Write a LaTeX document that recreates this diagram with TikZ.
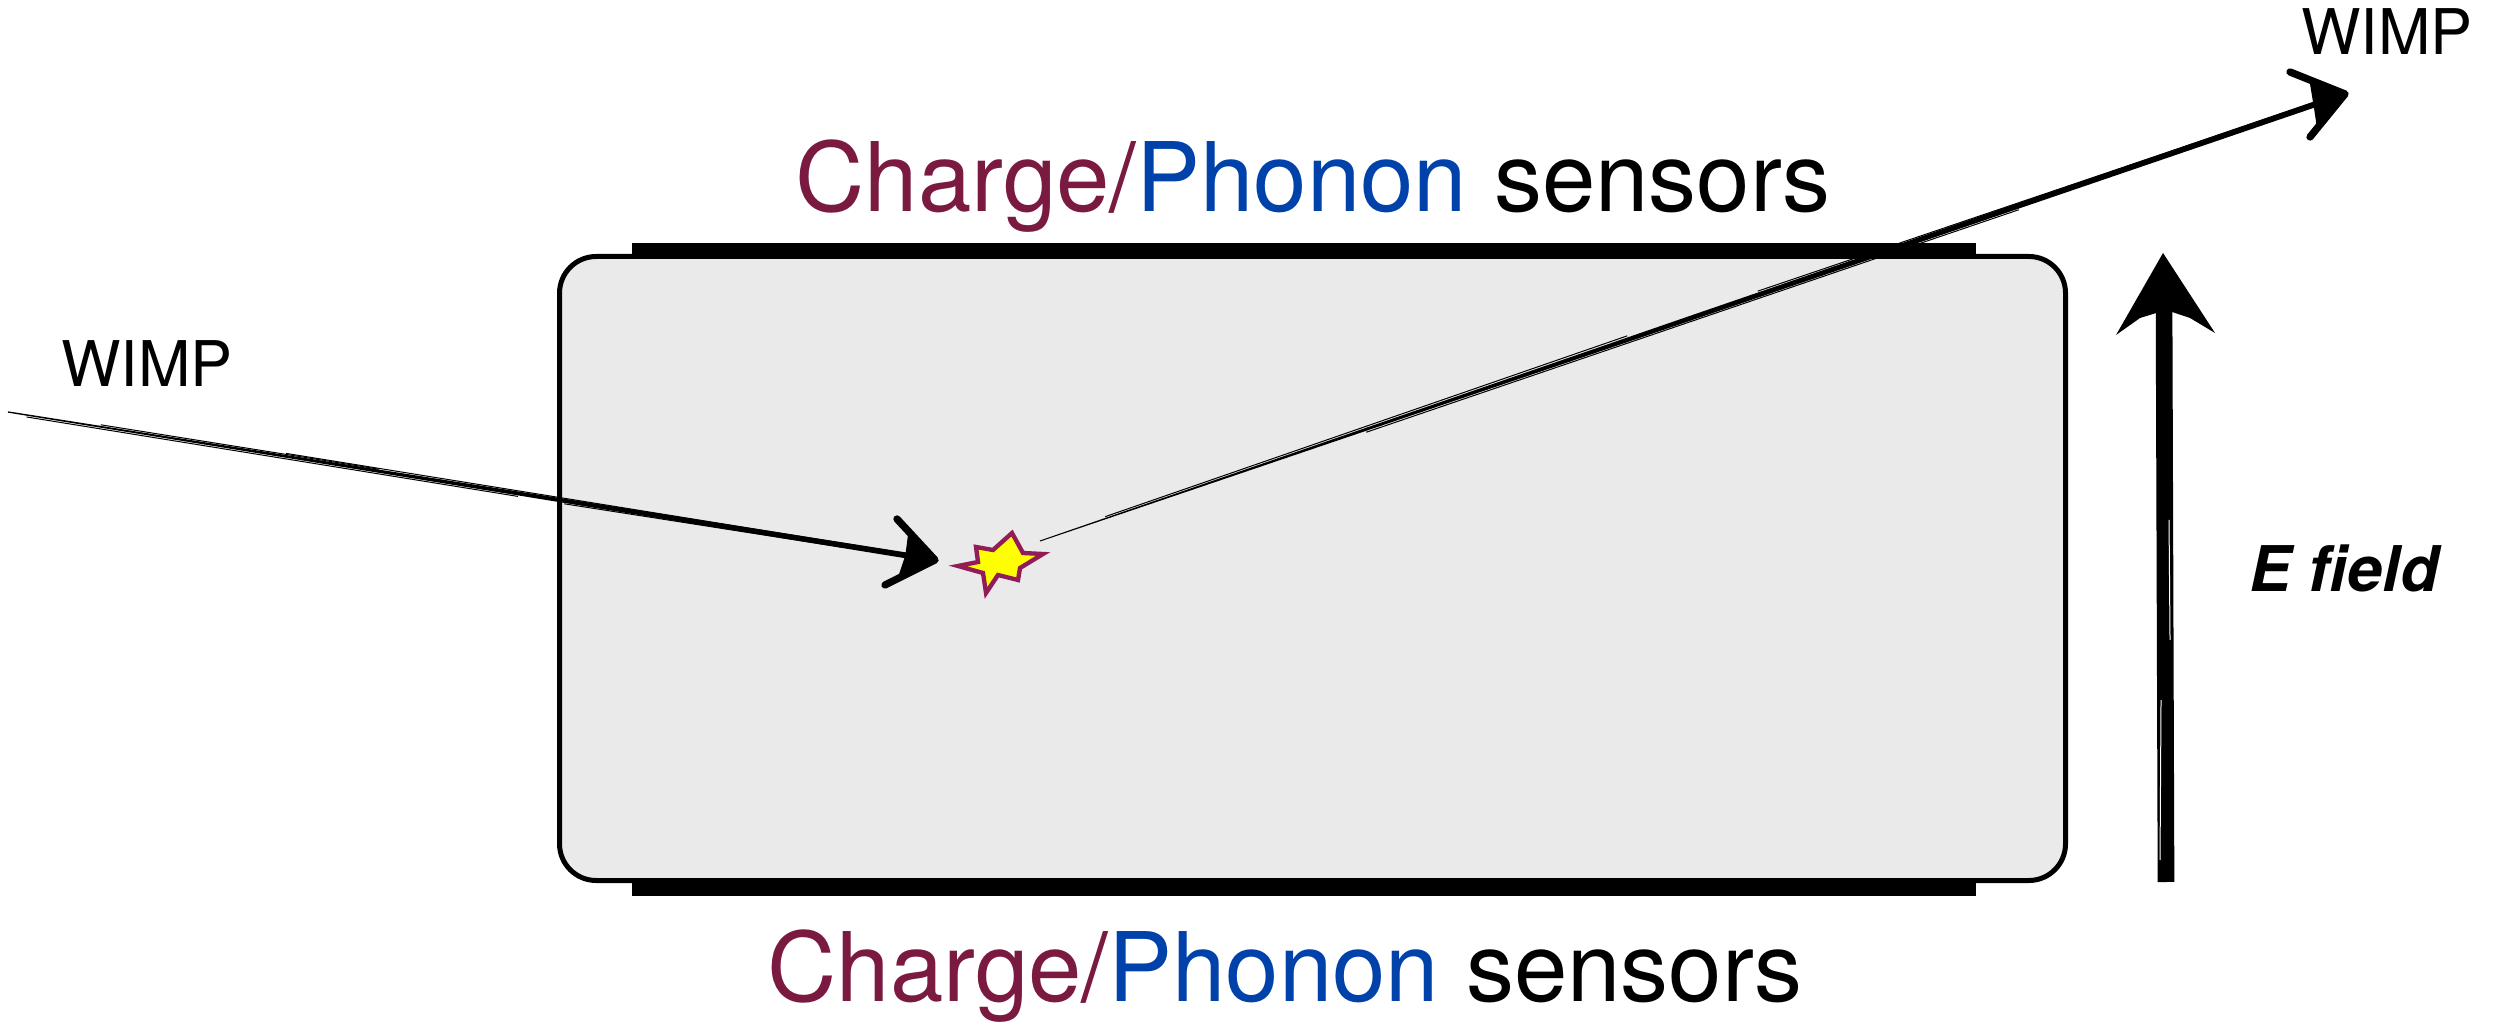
\documentclass[tikz,border=0pt]{standalone}
\usepackage{fontspec}
\setmainfont{TeX Gyre Heros}
\usetikzlibrary{calc}
\definecolor{chargecol}{RGB}{122,26,64}
\definecolor{phononcol}{RGB}{0,66,170}
\definecolor{crystal}{RGB}{234,234,234}
\definecolor{hitedge}{RGB}{145,28,88}
\definecolor{hitfill}{RGB}{255,255,0}
\tikzset{
  bigtext/.style={inner sep=0pt, anchor=base, font=\fontsize{28.8}{34}\selectfont},
  smalltext/.style={inner sep=0pt, anchor=base, font=\fontsize{18.9}{22}\selectfont},
  sensorbar/.style={fill=black},
  crystalbox/.style={draw=black, line width=1.5pt, fill=crystal, rounded corners=11pt},
  hair/.style={line width=0.3pt, black},
  chevron/.style={line width=2.2pt, line join=round, line cap=round, black},
}
\begin{document}
\begin{tikzpicture}[x=0.3pt, y=-0.3pt]
  \useasboundingbox (0,0) rectangle (2501,1025);

  % detector crystal with sensor layers top and bottom
  \fill[sensorbar] (632,243) rectangle (1976,258);
  \fill[sensorbar] (632,878) rectangle (1976,896);
  \draw[crystalbox] (559.5,256.5) rectangle (2065.5,880.5);

  % labels
  \node[bigtext] (toplabel) at (1313,212)
    {\textcolor{chargecol}{Charge/}\textcolor{phononcol}{Phonon} sensors};
  \node[bigtext] (botlabel) at (1285,1001)
    {\textcolor{chargecol}{Charge/}\textcolor{phononcol}{Phonon} sensors};
  \node[smalltext] (wimpin) at (147,387) {WIMP};
  \node[smalltext] (wimpout) at (2387,55) {WIMP};
  \node[smalltext, font=\fontsize{18.9}{22}\selectfont\bfseries\itshape] (efield) at (2344,592) {E field};

  % recoil point
  \draw[line width=1.3pt, draw=hitedge, fill=hitfill, line join=miter]
    (958,566) -- (978,562) -- (976,547) -- (993,550) -- (1012,533) -- (1023,553)
    -- (1043,554) -- (1020,568) -- (1018,580) -- (998,575) -- (986,593)
    -- (983,573) -- cycle;
  \coordinate (hit) at (1000,566);

  % incoming WIMP track
  \coordinate (inA) at (8,412);
  \coordinate (inB) at (935,560);
  \fill ($(inA)!0.2pt!90:(inB)$) -- ($(inB)!0.9pt!-90:(inA)$)
        -- ($(inB)!0.9pt!90:(inA)$) -- ($(inA)!0.2pt!-90:(inB)$) -- cycle;
  \draw[hair] ($(inA)!0.02!(inB)+(0,2)$) -- ($(inA)!0.55!(inB)+(0,3)$);
  \draw[hair] ($(inA)!0.30!(inB)+(0,-3)$) -- ($(inA)!0.95!(inB)+(0,-2)$);
  \draw[hair] ($(inA)!0.10!(inB)+(0,-2)$) -- ($(inA)!0.40!(inB)+(0,-2)$);
  \draw[hair] ($(inA)!0.60!(inB)+(0,3)$) -- ($(inA)!0.90!(inB)+(0,2)$);
  \coordinate (inU) at (897,519);
  \coordinate (inL) at (885,585);
  \draw[chevron] (inU) -- (inB) -- (inL);
  \fill (inB) -- ($(inB)!0.7!(inU)$) -- ($(inB)!9pt!(inA)$) -- ($(inB)!0.75!(inL)$) -- cycle;

  % scattered WIMP track
  \coordinate (outA) at (1040,541);
  \coordinate (outB) at (2345,94);
  \fill ($(outA)!0.15pt!90:(outB)$) -- ($(outA)!0.5!(outB)+(0,-2.5)$)
        -- ($(outB)!0.9pt!-90:(outA)$) -- ($(outB)!0.9pt!90:(outA)$)
        -- ($(outA)!0.5!(outB)+(0,2.5)$) -- ($(outA)!0.15pt!-90:(outB)$) -- cycle;
  \draw[hair] ($(outA)!0.05!(outB)+(0,-2)$) -- ($(outA)!0.45!(outB)+(0,-4)$);
  \draw[hair] ($(outA)!0.25!(outB)+(0,3)$) -- ($(outA)!0.75!(outB)+(0,4)$);
  \draw[hair] ($(outA)!0.55!(outB)+(0,-4)$) -- ($(outA)!0.97!(outB)+(0,-2)$);
  \coordinate (outU) at (2290,72);
  \coordinate (outL) at (2310,137);
  \draw[chevron] (outU) -- (outB) -- (outL);
  \fill (outB) -- ($(outB)!0.65!(outU)$) -- ($(outB)!10pt!(outA)$) -- ($(outB)!0.8!(outL)$) -- cycle;

  % electric field arrow
  \coordinate (eA) at (2166,882);
  \coordinate (eB) at (2164,300);
  \draw[line width=5pt] (eA) -- (eB);
  \draw[hair, white] (2160,860) -- (2161,700);
  \draw[hair, white] (2170,640) -- (2169,520);
  \coordinate (eTip) at (2163,253);
  \fill (eTip) -- (2215,333) -- (2190,318) -- (2166,310) -- (2140,318) -- (2116,335) -- cycle;
\end{tikzpicture}
\end{document}
